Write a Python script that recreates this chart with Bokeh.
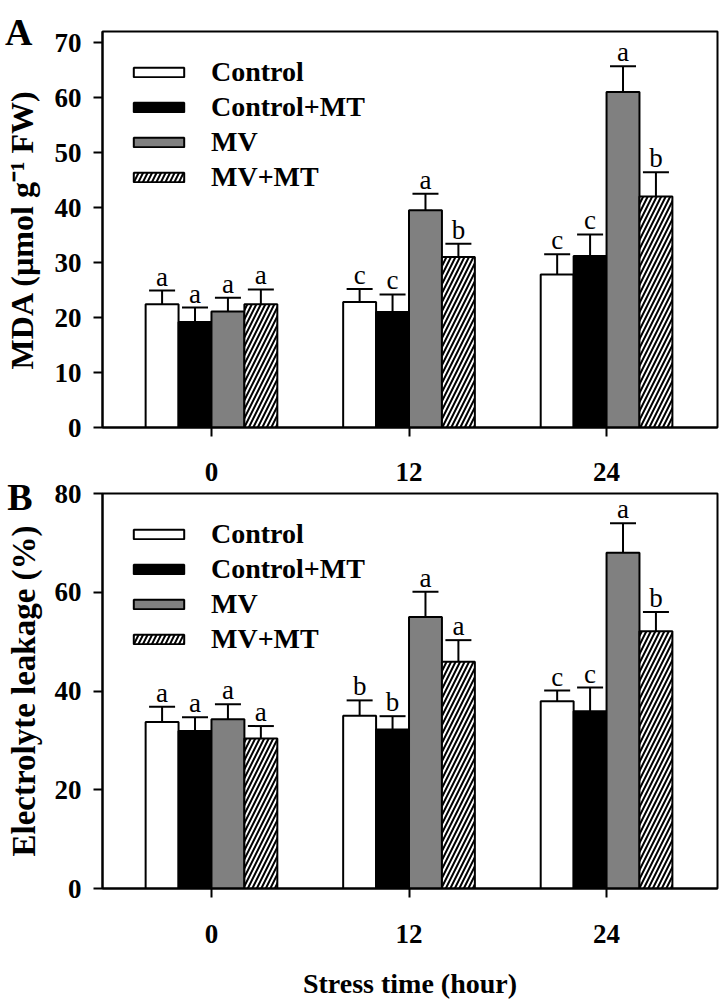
from bokeh.plotting import figure
from bokeh.models import (ColumnDataSource, Whisker, TeeHead, Legend, LegendItem,
                          FixedTicker, Range1d, LinearAxis)
from bokeh.layouts import column
from bokeh.embed import file_html
from bokeh.resources import INLINE
from bokeh.core.properties import value

# ---------------- data ----------------
groups = [0, 12, 24]
tick_labels = ["0", "12", "24"]
series = ["Control", "Control+MT", "MV", "MV+MT"]

mda_control = [22.4, 22.8, 27.8]
mda_control_mt = [19.2, 21.0, 31.2]
mda_mv = [21.1, 39.5, 61.0]
mda_mv_mt = [22.4, 31.0, 42.0]
mda_err_control = [2.5, 2.4, 3.7]
mda_err_control_mt = [2.6, 3.2, 3.9]
mda_err_mv = [2.5, 3.0, 4.7]
mda_err_mv_mt = [2.7, 2.4, 4.4]
mda_let_control = ["a", "c", "c"]
mda_let_control_mt = ["a", "c", "c"]
mda_let_mv = ["a", "a", "a"]
mda_let_mv_mt = ["a", "b", "b"]

el_control = [33.7, 35.0, 37.9]
el_control_mt = [31.9, 32.2, 35.9]
el_mv = [34.3, 55.0, 68.0]
el_mv_mt = [30.4, 45.9, 52.1]
el_err_control = [3.1, 3.1, 2.2]
el_err_control_mt = [2.8, 2.7, 4.8]
el_err_mv = [3.0, 5.1, 6.0]
el_err_mv_mt = [2.5, 4.4, 3.9]
el_let_control = ["a", "b", "c"]
el_let_control_mt = ["a", "b", "c"]
el_let_mv = ["a", "a", "a"]
el_let_mv_mt = ["a", "a", "b"]

mda_ticks = [0, 10, 20, 30, 40, 50, 60, 70]
el_ticks = [0, 20, 40, 60, 80]

# ---------------- style ----------------
FONT = "Liberation Serif"
offsets = [-3, -1, 1, 3]
bar_width = 2
fills = ["white", "black", "#808080", "white"]
hatches = [None, None, None, "/"]
X_START, X_END = -6.62, 30.74
FRAME_LEFT = 102
FRAME_W = 615


def make_panel(vals, errs, lets, ymax, yticks, ylabel, height, top_b, bot_b,
               letter, letter_pos, label_bounds, label_size, label_standoff,
               legend_vy, tick_standoff, xlabel=None):
    p = figure(width=FRAME_LEFT + FRAME_W + 3, height=height,
               x_range=Range1d(X_START, X_END), y_range=Range1d(0, ymax),
               output_backend="svg", toolbar_location=None,
               min_border_left=FRAME_LEFT, min_border_right=3,
               min_border_top=top_b, min_border_bottom=bot_b)
    p.xgrid.visible = False
    p.ygrid.visible = False
    p.outline_line_color = "black"
    p.outline_line_width = 2
    p.outline_line_alpha = 1
    p.background_fill_color = "white"
    p.border_fill_alpha = 0

    # outer left axis: carries the panel letter (as its only tick label)
    # and the rotated axis title
    p.extra_y_ranges = {"letter": Range1d(0, 1)}
    ax2 = LinearAxis(y_range_name="letter", ticker=FixedTicker(ticks=[letter_pos]),
                     major_label_overrides={letter_pos: letter},
                     bounds=label_bounds)
    p.add_layout(ax2, "left")

    for ax in (p.xaxis[0], p.yaxis[0], ax2):
        ax.axis_line_width = 2
        ax.major_tick_line_width = 2
        ax.major_tick_out = 9
        ax.major_tick_in = 0
        ax.minor_tick_line_color = None
        ax.major_label_text_font = FONT
        ax.major_label_text_font_style = "bold"
        ax.major_label_text_font_size = "27px"
        ax.major_label_text_color = "black"
        ax.axis_label_text_font = FONT
        ax.axis_label_text_font_style = "bold"
        ax.axis_label_text_font_size = "28px"
        ax.axis_label_text_color = "black"

    ax2.axis_line_color = None
    ax2.major_tick_line_color = None
    ax2.major_tick_out = 0
    ax2.major_label_text_font_size = "38px"
    ax2.major_label_standoff = 19
    ax2.axis_label = ylabel
    ax2.axis_label_text_font_size = label_size
    ax2.axis_label_standoff = label_standoff

    p.xaxis.ticker = FixedTicker(ticks=groups)
    p.xaxis.major_label_overrides = {g: t for g, t in zip(groups, tick_labels)}
    p.xaxis.major_label_standoff = tick_standoff
    p.yaxis[0].ticker = FixedTicker(ticks=yticks)
    p.yaxis[0].major_label_standoff = 12
    if xlabel:
        p.xaxis.axis_label = xlabel
        p.xaxis.axis_label_standoff = 22

    items = []
    for i, name in enumerate(series):
        src = ColumnDataSource(dict(
            x=[g + offsets[i] for g in groups],
            top=vals[i],
            upper=[v + e for v, e in zip(vals[i], errs[i])],
            lab=lets[i]))
        kw = {}
        if hatches[i]:
            kw = dict(hatch_pattern=hatches[i], hatch_color="black",
                      hatch_scale=9, hatch_weight=2)
        r = p.vbar(x="x", top="top", bottom=0, width=bar_width, source=src,
                   fill_color=fills[i], line_color="black", line_width=2, **kw)
        w = Whisker(source=src, base="x", upper="upper", lower="top",
                    dimension="height", line_color="black", line_width=2,
                    upper_head=TeeHead(size=26, line_width=2, line_color="black"),
                    lower_head=None, level="glyph")
        p.add_layout(w)
        p.text(x="x", y="upper", text="lab", source=src,
               text_font=value(FONT), text_font_size="27px",
               text_align="center", text_baseline="alphabetic",
               y_offset=-14, text_color="black")
        items.append(LegendItem(label=name, renderers=[r]))

    leg = Legend(items=items, location=(25, legend_vy), glyph_width=63,
                 glyph_height=12, label_text_font=FONT,
                 label_text_font_style="bold", label_text_font_size="28px",
                 label_text_color="black", label_standoff=21, spacing=3,
                 padding=0, margin=0, border_line_alpha=0,
                 background_fill_alpha=0)
    p.add_layout(leg)
    return p


pA = make_panel([mda_control, mda_control_mt, mda_mv, mda_mv_mt],
                [mda_err_control, mda_err_control_mt, mda_err_mv, mda_err_mv_mt],
                [mda_let_control, mda_let_control_mt, mda_let_mv, mda_let_mv_mt],
                72, mda_ticks, "MDA (\u00b5mol g\u207b\u00b9 FW)",
                height=490, top_b=31, bot_b=63, letter="A",
                letter_pos=0.999, label_bounds=(0.02, 1.0), label_size="32px",
                label_standoff=-38, legend_vy=234, tick_standoff=26)

pB = make_panel([el_control, el_control_mt, el_mv, el_mv_mt],
                [el_err_control, el_err_control_mt, el_err_mv, el_err_mv_mt],
                [el_let_control, el_let_control_mt, el_let_mv, el_let_mv_mt],
                80, el_ticks, "Electrolyte leakage (%)",
                height=536, top_b=25, bot_b=116, letter="B",
                letter_pos=0.991, label_bounds=(0.32, 1.0), label_size="33px",
                label_standoff=-38, legend_vy=233, tick_standoff=27,
                xlabel="Stress time (hour)")
pB.margin = (-22, 0, 0, 0)

layout = column(pA, pB, spacing=0)
open("out.html", "w").write(file_html(layout, INLINE))
